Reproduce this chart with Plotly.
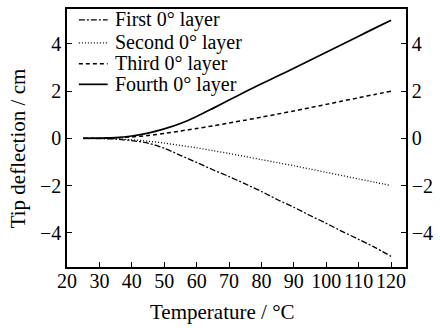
import plotly.graph_objects as go

temperature = [25, 30, 35, 40, 45, 50, 55, 60, 65, 70, 75, 80, 85, 90, 95, 100, 105, 110, 115, 120]
first_layer = [0, -0.01, -0.03, -0.1, -0.2, -0.42, -0.72, -1.02, -1.33, -1.62, -1.93, -2.25, -2.6,
               -2.92, -3.27, -3.6, -3.95, -4.28, -4.62, -5.0]
second_layer = [0, -0.005, -0.02, -0.06, -0.12, -0.2, -0.3, -0.4, -0.52, -0.64, -0.77, -0.9,
                -1.03, -1.16, -1.3, -1.44, -1.58, -1.72, -1.86, -2.0]
third_layer = [0, 0.005, 0.02, 0.06, 0.12, 0.21, 0.31, 0.42, 0.53, 0.65, 0.77, 0.9, 1.03, 1.16,
               1.3, 1.44, 1.58, 1.72, 1.86, 2.0]
fourth_layer = [0, 0.01, 0.03, 0.1, 0.22, 0.4, 0.63, 0.93, 1.27, 1.62, 1.97, 2.31, 2.64, 2.97,
                3.31, 3.65, 3.99, 4.33, 4.67, 5.0]

series_names = ["First 0° layer", "Second 0° layer", "Third 0° layer", "Fourth 0° layer"]
series_values = [first_layer, second_layer, third_layer, fourth_layer]
dashes = ["6px,2px,2px,2px", "1px,2px", "4px,3px", "solid"]
widths = [1.3, 1.3, 1.5, 1.7]

x_ticks = [20, 30, 40, 50, 60, 70, 80, 90, 100, 110, 120]
y_ticks = [-4, -2, 0, 2, 4]

FONT = "Liberation Serif, Times New Roman, serif"

fig = go.Figure()
for name, vals, dash, w in zip(series_names, series_values, dashes, widths):
    fig.add_trace(go.Scatter(x=temperature, y=vals, mode="lines", name=name,
                             line=dict(color="black", width=w, dash=dash,
                                       shape="spline", smoothing=0.8),
                             showlegend=False))
# invisible trace to carry the mirrored right axis
fig.add_trace(go.Scatter(x=temperature, y=fourth_layer, yaxis="y2", mode="lines",
                         line=dict(color="rgba(0,0,0,0)"), showlegend=False, hoverinfo="skip"))

# manual legend (keys + labels)
leg_y = [0.958, 0.869, 0.788, 0.708]
for name, dash, w, yy in zip(series_names, dashes, widths, leg_y):
    fig.add_shape(type="line", xref="paper", yref="paper", x0=0.035, x1=0.12, y0=yy, y1=yy,
                  line=dict(color="black", width=w, dash=dash))
    fig.add_annotation(text=name, xref="paper", yref="paper", x=0.137, y=yy,
                       xanchor="left", yanchor="middle", showarrow=False,
                       font=dict(family=FONT, size=20, color="black"))

fig.add_annotation(text="Tip deflection / cm", xref="paper", yref="paper", x=-0.146, y=0.458,
                   textangle=-90, showarrow=False, xanchor="center", yanchor="middle",
                   font=dict(family=FONT, size=21, color="black"))
fig.add_annotation(text="Temperature / °C", xref="paper", yref="paper", x=0.459, y=-0.173,
                   showarrow=False, xanchor="center", yanchor="middle",
                   font=dict(family=FONT, size=21, color="black"))

axis_common = dict(showgrid=False, zeroline=False, showline=True, linecolor="black",
                   linewidth=1.5, ticks="inside", ticklen=5, tickwidth=1, tickcolor="black",
                   tickfont=dict(family=FONT, size=20, color="black"))

fig.update_layout(
    width=440, height=328,
    margin=dict(l=67, r=31, t=7, b=61),
    paper_bgcolor="white", plot_bgcolor="white",
    xaxis=dict(range=[20, 124.6], tickvals=x_ticks, ticktext=[str(v) for v in x_ticks],
               mirror=True, ticklabelstandoff=-5, **axis_common),
    yaxis=dict(range=[-5.45, 5.48], tickvals=y_ticks,
               ticktext=[("−" + str(-v)) if v < 0 else str(v) for v in y_ticks],
               mirror=True, **axis_common),
    yaxis2=dict(range=[-5.45, 5.48], tickvals=y_ticks,
                ticktext=[("−" + str(-v)) if v < 0 else str(v) for v in y_ticks],
                overlaying="y", side="right", **axis_common),
    font=dict(family=FONT, color="black"),
    showlegend=False,
)

fig.write_html("out.html", config={"displayModeBar": False},
               post_script="document.body.style.margin='0';document.body.style.overflow='hidden';")
